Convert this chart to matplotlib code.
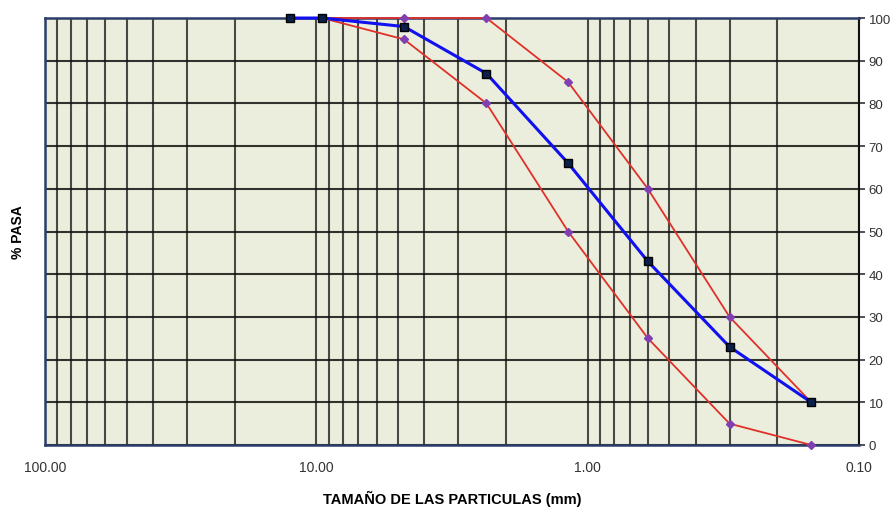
import matplotlib.pyplot as plt
from matplotlib.ticker import FixedLocator, FuncFormatter

# Data
sieve_blue = [12.5, 9.5, 4.75, 2.36, 1.18, 0.6, 0.3, 0.15]
pasa_blue = [100, 100, 98, 87, 66, 43, 23, 10]

sieve_lim = [9.5, 4.75, 2.36, 1.18, 0.6, 0.3, 0.15]
lim_sup = [100, 100, 100, 85, 60, 30, 10]
lim_inf = [100, 95, 80, 50, 25, 5, 0]

x_ticks = [100, 10, 1, 0.1]
y_ticks = list(range(0, 101, 10))

plt.rcParams['font.family'] = ['Liberation Sans Narrow', 'Liberation Sans', 'DejaVu Sans']

fig = plt.figure(figsize=(8.92, 5.10), dpi=100)
ax = fig.add_axes([0.0504, 0.1255, 0.9126, 0.8372])
ax.set_facecolor('#EBEEDD')

ax.plot(sieve_lim, lim_sup, color='#E0302A', lw=1.3, marker='D', ms=4,
        mfc='#8040B0', mec='#8040B0', zorder=3, clip_on=False)
ax.plot(sieve_lim, lim_inf, color='#E0302A', lw=1.3, marker='D', ms=4,
        mfc='#8040B0', mec='#8040B0', zorder=3, clip_on=False)
ax.plot(sieve_blue, pasa_blue, color='#1010F0', lw=2.2, marker='s', ms=6,
        mfc='#0A1F4A', mec='#000000', zorder=4, clip_on=False)

ax.set_xscale('log')
ax.set_xlim(100, 0.1)
ax.set_ylim(0, 100)

# log grid lines
minor = [m * 10.0 ** e for e in (-1, 0, 1) for m in range(2, 10)]
ax.xaxis.set_major_locator(FixedLocator(x_ticks))
ax.xaxis.set_minor_locator(FixedLocator(minor))
ax.xaxis.set_major_formatter(FuncFormatter(lambda v, p: f'{v:.2f}'))
ax.xaxis.set_minor_formatter(FuncFormatter(lambda v, p: ''))
ax.set_yticks(y_ticks)
ax.yaxis.tick_right()
ax.set_yticklabels([str(v) for v in y_ticks])

ax.grid(True, which='both', axis='x', color='#111111', lw=1.5, alpha=0.75)
ax.grid(True, which='major', axis='y', color='#111111', lw=1.5, alpha=0.85)
ax.set_axisbelow(True)

ax.tick_params(axis='x', which='both', length=0, pad=11, labelsize=10, colors='#333333')
ax.tick_params(axis='y', length=4, width=1.2, pad=3, labelsize=9.5, colors='#333333')

for s in ('left', 'bottom', 'top'):
    ax.spines[s].set_color('#2B3E6B')
    ax.spines[s].set_linewidth(1.8)
ax.spines['right'].set_color('#111111')
ax.spines['right'].set_linewidth(1.5)

ax.set_xlabel('TAMAÑO DE LAS PARTICULAS (mm)', fontsize=10.5, fontweight='bold', labelpad=11)
fig.text(0.02, 0.545, '% PASA', rotation=90, ha='center', va='center',
         fontsize=10, fontweight='bold', family=['Liberation Sans', 'DejaVu Sans'])

fig.savefig('out.png', dpi=100)
